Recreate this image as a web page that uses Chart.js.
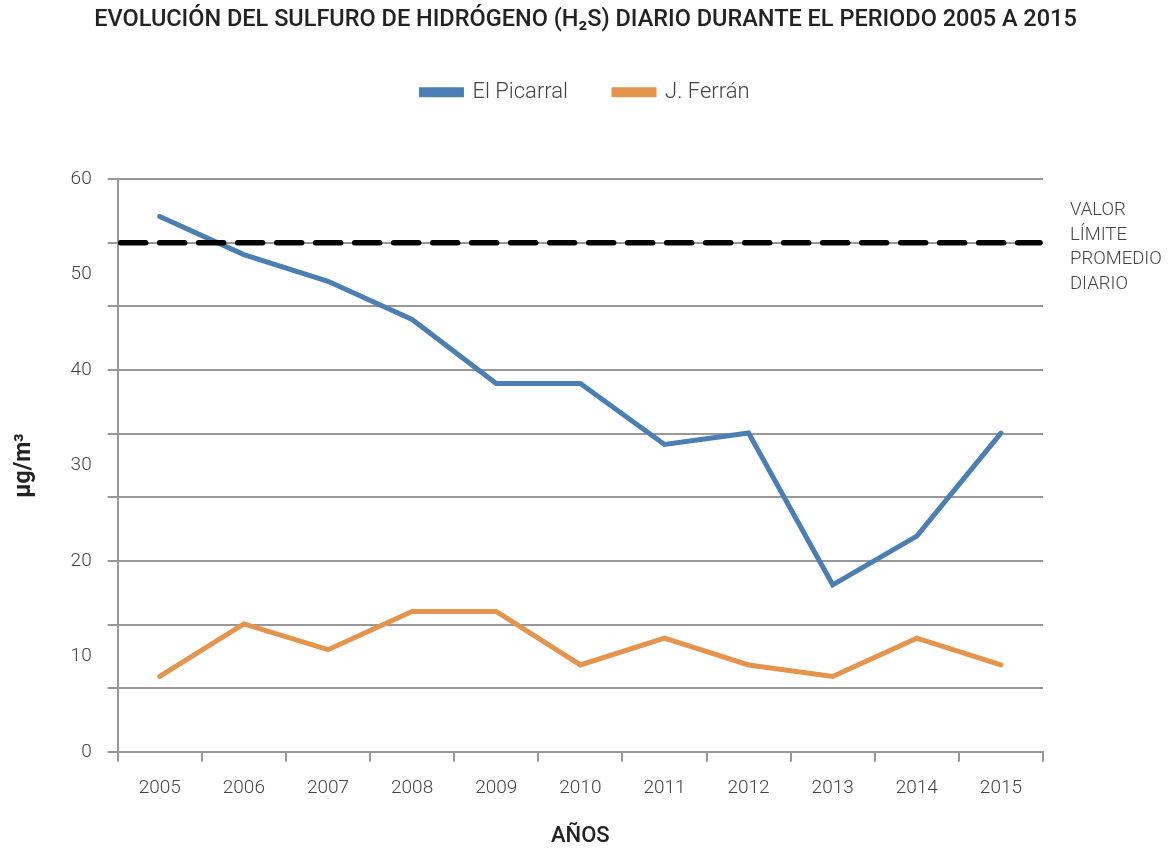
<!DOCTYPE html>
<html>
<head>
<meta charset="utf-8">
<script src="https://cdn.jsdelivr.net/npm/chart.js@4.4.1/dist/chart.umd.min.js"></script>
<style>
  html, body { margin: 0; padding: 0; background: #fff; }
  #wrap { width: 1171px; height: 850px; }
</style>
</head>
<body>
<div id="wrap"><canvas id="chart"></canvas></div>
<script>
// data
const years = ['2005', '2006', '2007', '2008', '2009', '2010', '2011', '2012', '2013', '2014', '2015'];
const picarral = [56.1, 52.1, 49.3, 45.3, 38.6, 38.6, 32.2, 33.4, 17.5, 22.6, 33.4];
const ferran = [7.9, 13.4, 10.7, 14.7, 14.7, 9.1, 11.9, 9.1, 7.9, 11.9, 9.1];
const limitValue = 53.33;
const limitText = ['VALOR', 'LÍMITE', 'PROMEDIO', 'DIARIO'];
const yLabels = [0, 10, 20, 30, 40, 50, 60];
const yGridLines = [0, 6.667, 13.333, 20, 26.667, 33.333, 40, 46.667, 53.333, 60];

const gridColor = '#989898';
const textColor = '#444';
const font = "Roboto, 'DejaVu Sans', sans-serif";

// dashed limit line + its label on the right
const limitPlugin = {
    id: 'limitLine',
    afterDatasetsDraw(chart) {
        const c = chart.ctx;
        const area = chart.chartArea;
        const y = chart.scales.y.getPixelForValue(limitValue);
        c.save();
        c.strokeStyle = '#000';
        c.lineWidth = 5.5;
        c.lineCap = 'round';
        c.setLineDash([25, 14]);
        c.beginPath();
        c.moveTo(area.left + 3, y);
        c.lineTo(area.right - 3, y);
        c.stroke();
        c.setLineDash([]);
        c.fillStyle = textColor;
        c.font = '300 18.5px ' + font;
        c.textBaseline = 'middle';
        limitText.forEach((t, i) => {
            c.fillText(t, area.right + 27, y - 32 + i * 24.5);
        });
        c.restore();
    }
};

// extra room under the legend
const legendGap = {
    id: 'legendGap',
    beforeInit(chart) {
        const fit = chart.legend.fit;
        chart.legend.fit = function () {
            fit.bind(chart.legend)();
            this.height += 66;
        };
    }
};

const ctx = document.getElementById('chart').getContext('2d');

new Chart(ctx, {
    type: 'line',
    data: {
        labels: years,
        datasets: [{
            label: 'El Picarral',
            data: picarral,
            borderColor: '#4b7fb3',
            backgroundColor: '#4b7fb3',
            borderWidth: 5,
            pointRadius: 0,
            borderCapStyle: 'round',
            fill: false
        }, {
            label: 'J. Ferrán',
            data: ferran,
            borderColor: '#e5944d',
            backgroundColor: '#e5944d',
            borderWidth: 5,
            pointRadius: 0,
            borderCapStyle: 'round',
            fill: false
        }]
    },
    options: {
        responsive: true,
        maintainAspectRatio: false,
        animation: false,
        layout: { padding: { left: 10, right: 10, top: 0, bottom: 0 } },
        plugins: {
            title: {
                display: true,
                text: 'EVOLUCIÓN DEL SULFURO DE HIDRÓGENO (H₂S) DIARIO DURANTE EL PERIODO 2005 A 2015',
                color: '#222',
                font: { family: font, size: 23.5, weight: '500' },
                padding: { top: 6, bottom: 1 }
            },
            legend: {
                display: true,
                labels: {
                    color: textColor,
                    font: { family: font, size: 22, weight: '300' },
                    boxWidth: 40,
                    boxHeight: 5,
                    padding: 46
                }
            },
            tooltip: { enabled: false }
        },
        scales: {
            x: {
                type: 'category',
                offset: true,
                grid: {
                    display: true,
                    drawOnChartArea: false,
                    drawTicks: true,
                    tickLength: 10,
                    color: gridColor,
                    lineWidth: 2,
                    offset: true
                },
                border: { display: true, color: gridColor, width: 2 },
                ticks: {
                    color: textColor,
                    font: { family: font, size: 19, weight: '300' },
                    padding: 15,
                    maxRotation: 0
                },
                title: {
                    display: true,
                    text: 'AÑOS',
                    color: '#222',
                    font: { family: font, size: 22, weight: '500' },
                    padding: { top: 9, bottom: 0 }
                }
            },
            y: {
                position: 'left',
                min: 0,
                max: 60,
                weight: 0,
                afterBuildTicks(axis) {
                    axis.ticks = yGridLines.map(v => ({ value: v }));
                },
                grid: {
                    color: gridColor,
                    lineWidth: 2,
                    drawTicks: true,
                    tickLength: 10
                },
                border: { display: true, color: gridColor, width: 2 },
                ticks: { display: false }
            },
            yLab: {
                position: 'left',
                min: 0,
                max: 60,
                weight: 1,
                afterBuildTicks(axis) {
                    axis.ticks = yLabels.map(v => ({ value: v }));
                },
                grid: { display: false, drawTicks: false },
                border: { display: false },
                ticks: {
                    color: textColor,
                    font: { family: font, size: 19, weight: '300' },
                    padding: 16
                },
                title: {
                    display: true,
                    text: 'µg/m³',
                    color: '#222',
                    font: { family: font, size: 23, weight: 'bold' },
                    padding: { top: 0, bottom: 17 }
                }
            },
            // empty strip on the right, keeps room for the limit note
            yRight: {
                position: 'right',
                min: 0,
                max: 60,
                grid: { display: false, drawTicks: false },
                border: { display: false },
                ticks: { display: false },
                afterFit(axis) {
                    axis.width = 118;
                }
            }
        }
    },
    plugins: [limitPlugin, legendGap]
});
</script>
</body>
</html>
